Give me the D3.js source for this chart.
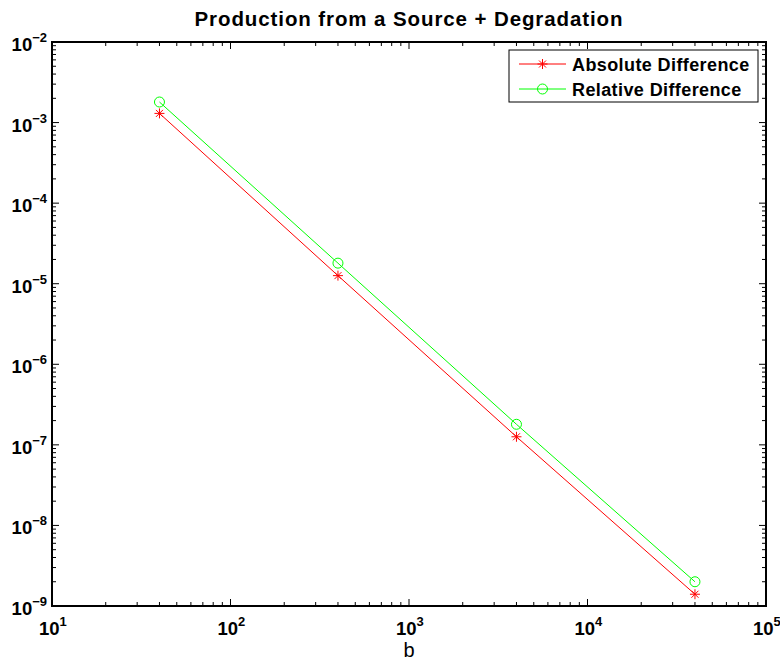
<!DOCTYPE html>
<html>
<head>
  <script src="https://d3js.org/d3.v7.min.js"></script>
  <style>
    html, body { margin: 0; padding: 0; background: #fff; }
    text { font-family: "Liberation Sans", Arial, sans-serif; }
  </style>
</head>
<body>
  <svg id="chart" width="780" height="660"></svg>
  <script>
    // values
    var bValues = [40, 400, 4000, 40000];
    var absDiff = [1.3e-3, 1.26e-5, 1.26e-7, 1.4e-9];
    var relDiff = [1.8e-3, 1.8e-5, 1.8e-7, 2.0e-9];
    var xTickExps = [1, 2, 3, 4, 5];
    var yTickExps = [-2, -3, -4, -5, -6, -7, -8, -9];
    var seriesNames = ["Absolute Difference", "Relative Difference"];
    var seriesColors = ["#ff0000", "#00ff00"];

    // plot box (note: "top" is reserved on window, so use other names)
    var pLeft = 52, pRight = 766, pTop = 42, pBottom = 606;
    var svg = d3.select("#chart");

    var x = d3.scaleLog().domain([1e1, 1e5]).range([pLeft, pRight]);
    var y = d3.scaleLog().domain([1e-9, 1e-2]).range([pBottom, pTop]);

    // minor ticks
    var xMinor = [], yMinor = [];
    for (var e = 1; e < 5; e++) for (var m = 2; m < 10; m++) xMinor.push(m * Math.pow(10, e));
    for (var e2 = -9; e2 < -2; e2++) for (var m2 = 2; m2 < 10; m2++) yMinor.push(m2 * Math.pow(10, e2));

    var ticks = svg.append("g").attr("stroke", "#000").attr("stroke-width", 1);
    xMinor.forEach(function (v) {
      ticks.append("line").attr("x1", x(v)).attr("x2", x(v)).attr("y1", pBottom).attr("y2", pBottom - 4);
      ticks.append("line").attr("x1", x(v)).attr("x2", x(v)).attr("y1", pTop).attr("y2", pTop + 4);
    });
    xTickExps.forEach(function (p) {
      var v = Math.pow(10, p);
      ticks.append("line").attr("x1", x(v)).attr("x2", x(v)).attr("y1", pBottom).attr("y2", pBottom - 7);
      ticks.append("line").attr("x1", x(v)).attr("x2", x(v)).attr("y1", pTop).attr("y2", pTop + 7);
    });
    yMinor.forEach(function (v) {
      ticks.append("line").attr("x1", pLeft).attr("x2", pLeft + 4).attr("y1", y(v)).attr("y2", y(v));
      ticks.append("line").attr("x1", pRight).attr("x2", pRight - 4).attr("y1", y(v)).attr("y2", y(v));
    });
    yTickExps.forEach(function (p) {
      var v = Math.pow(10, p);
      ticks.append("line").attr("x1", pLeft).attr("x2", pLeft + 7).attr("y1", y(v)).attr("y2", y(v));
      ticks.append("line").attr("x1", pRight).attr("x2", pRight - 7).attr("y1", y(v)).attr("y2", y(v));
    });

    // axes box
    svg.append("rect").attr("x", pLeft).attr("y", pTop)
      .attr("width", pRight - pLeft).attr("height", pBottom - pTop)
      .attr("fill", "none").attr("stroke", "#000").attr("stroke-width", 2);

    // tick labels: 10 with superscript exponent
    function powLabel(g, px, py, exp, anchor) {
      var t = g.append("text").attr("x", px).attr("y", py)
        .attr("text-anchor", anchor).attr("font-weight", "bold").attr("font-size", 18.5);
      t.append("tspan").text("10");
      t.append("tspan").attr("dy", -9).attr("font-size", 13).text(exp < 0 ? "\u2212" + (-exp) : exp);
    }
    var labels = svg.append("g");
    xTickExps.forEach(function (p) {
      powLabel(labels, x(Math.pow(10, p)) - 13, pBottom + 29, p, "start");
    });
    yTickExps.forEach(function (p) {
      powLabel(labels, pLeft - 5, y(Math.pow(10, p)) + 9, p, "end");
    });

    function drawMarker(g, cx, cy, kind) {
      if (kind === 0) {
        var r = 5;
        var s = g.append("g").attr("stroke", seriesColors[0]).attr("stroke-width", 1);
        s.append("line").attr("x1", cx - r).attr("x2", cx + r).attr("y1", cy).attr("y2", cy);
        s.append("line").attr("x1", cx).attr("x2", cx).attr("y1", cy - r).attr("y2", cy + r);
        s.append("line").attr("x1", cx - r * 0.7).attr("x2", cx + r * 0.7).attr("y1", cy - r * 0.7).attr("y2", cy + r * 0.7);
        s.append("line").attr("x1", cx - r * 0.7).attr("x2", cx + r * 0.7).attr("y1", cy + r * 0.7).attr("y2", cy - r * 0.7);
      } else {
        g.append("circle").attr("cx", cx).attr("cy", cy).attr("r", 5)
          .attr("fill", "none").attr("stroke", seriesColors[1]).attr("stroke-width", 1);
      }
    }

    // series
    var line = d3.line().x(function (d) { return x(d[0]); }).y(function (d) { return y(d[1]); });
    [absDiff, relDiff].forEach(function (vals, i) {
      var pts = bValues.map(function (b, k) { return [b, vals[k]]; });
      svg.append("path").datum(pts).attr("d", line)
        .attr("fill", "none").attr("stroke", seriesColors[i]).attr("stroke-width", 1);
      pts.forEach(function (p) {
        drawMarker(svg, x(p[0]), y(p[1]), i);
      });
    });

    // legend
    var lg = svg.append("g");
    lg.append("rect").attr("x", 509).attr("y", 50).attr("width", 249).attr("height", 52)
      .attr("fill", "#fff").attr("stroke", "#000").attr("stroke-width", 1);
    seriesNames.forEach(function (name, i) {
      var ly = 64 + i * 25;
      lg.append("line").attr("x1", 519).attr("x2", 566).attr("y1", ly).attr("y2", ly)
        .attr("stroke", seriesColors[i]).attr("stroke-width", 1);
      drawMarker(lg, 542.5, ly, i);
      lg.append("text").attr("x", 572).attr("y", ly + 6.5)
        .attr("font-weight", "bold").attr("font-size", 18).attr("letter-spacing", 0.4).text(name);
    });

    // title and axis label
    svg.append("text").attr("x", (pLeft + pRight) / 2).attr("y", 26)
      .attr("text-anchor", "middle").attr("font-weight", "bold").attr("font-size", 20.5)
      .attr("letter-spacing", 0.9)
      .text("Production from a Source + Degradation");
    svg.append("text").attr("x", (pLeft + pRight) / 2).attr("y", 657)
      .attr("text-anchor", "middle").attr("font-size", 20).text("b");
  </script>
</body>
</html>
